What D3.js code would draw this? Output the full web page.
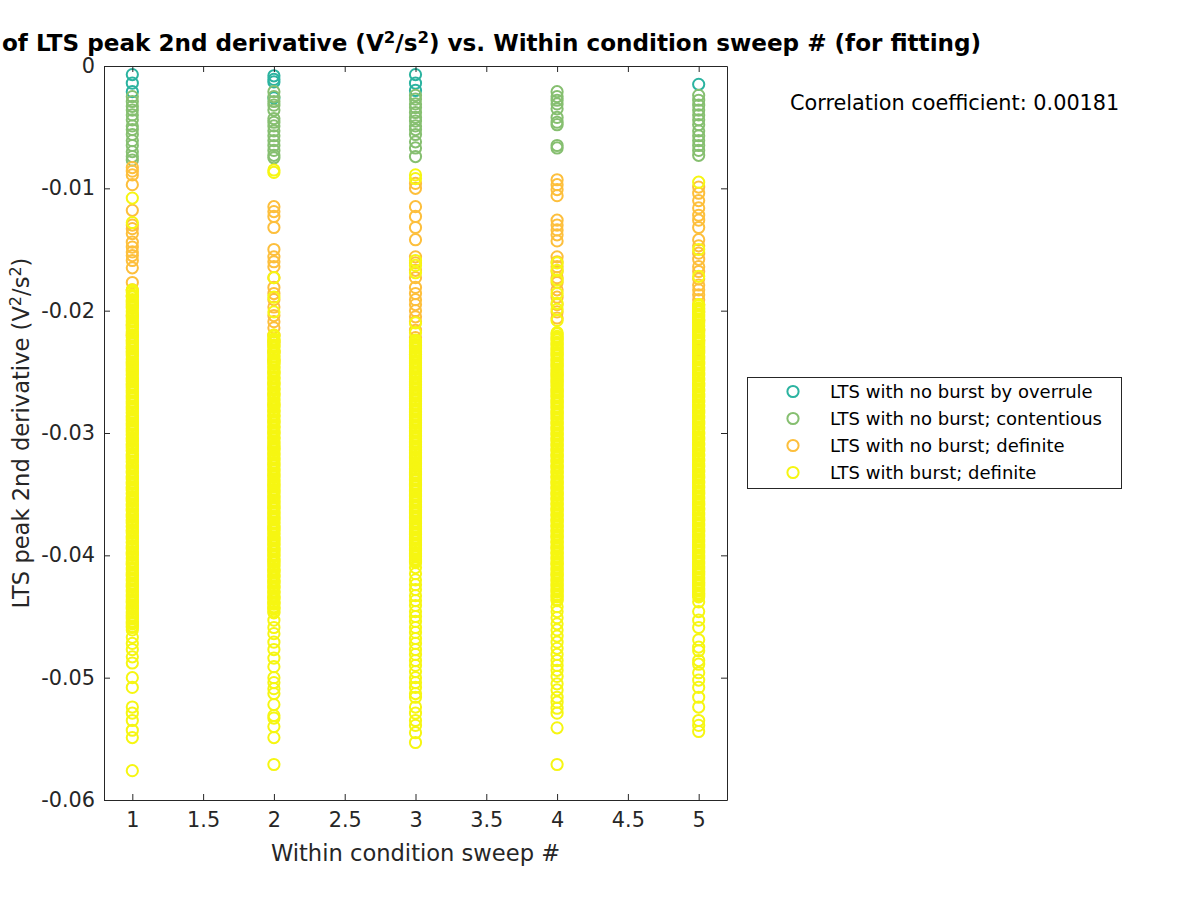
<!DOCTYPE html>
<html><head><meta charset="utf-8">
<script src="https://cdn.jsdelivr.net/npm/d3@7"></script>
<style>
body{margin:0;background:#fff}
svg{display:block}
text{font-family:"DejaVu Sans",sans-serif;fill:#262626}
</style>
</head><body>
<svg id="c" width="1200" height="900"></svg>
<script>
// ---------------- DATA ----------------
const sweeps = [1, 2, 3, 4, 5];
const xTicks = [1, 1.5, 2, 2.5, 3, 3.5, 4, 4.5, 5];
const yTicks = [0, -0.01, -0.02, -0.03, -0.04, -0.05, -0.06];
const groupNames = ["LTS with no burst by overrule", "LTS with no burst; contentious", "LTS with no burst; definite", "LTS with burst; definite"];
const groupColors = ["#2bb3a0", "#86bf70", "#fdbf3c", "#f6f612"];
const corrText = "Correlation coefficient: 0.00181";

// LTS with no burst by overrule (per sweep)
const overruleS1 = [-0.0007, -0.0014, -0.0021];
const overruleS2 = [-0.0008, -0.0011, -0.0013, -0.0026];
const overruleS3 = [-0.0007, -0.0014, -0.0020];
const overruleS4 = [];
const overruleS5 = [-0.0015];

// LTS with no burst; contentious
const contentS1 = [-0.0025, -0.0029, -0.0033, -0.0036, -0.0040, -0.0044, -0.0049, -0.0052, -0.0056, -0.0061, -0.0065, -0.0070, -0.0074, -0.0077];
const contentS2 = [-0.0021, -0.0025, -0.0029, -0.0032, -0.0036, -0.0043, -0.0046, -0.0049, -0.0053, -0.0057, -0.0061, -0.0065, -0.0069, -0.0073, -0.0075];
const contentS3 = [-0.0024, -0.0027, -0.0031, -0.0034, -0.0038, -0.0042, -0.0045, -0.0049, -0.0052, -0.0056, -0.0062, -0.0067, -0.0074];
const contentS4 = [-0.0021, -0.0025, -0.0028, -0.0031, -0.0035, -0.0042, -0.0046, -0.0048, -0.0065, -0.0067];
const contentS5 = [-0.0024, -0.0028, -0.0032, -0.0036, -0.0040, -0.0044, -0.0048, -0.0053, -0.0057, -0.0061, -0.0065, -0.0069, -0.0073];

// LTS with no burst; definite
const noBurstS1 = [-0.0083, -0.0086, -0.0089, -0.0097, -0.0118, -0.0130, -0.0133, -0.0137, -0.0144, -0.0148, -0.0152, -0.0155, -0.0159, -0.0165, -0.0177, -0.0183, -0.0188, -0.0195, -0.0204, -0.0212, -0.0220, -0.0231];
const noBurstS2 = [-0.0115, -0.0119, -0.0123, -0.0132, -0.0150, -0.0156, -0.0160, -0.0164, -0.0173, -0.0181, -0.0186, -0.0191, -0.0197, -0.0204, -0.0209, -0.0214, -0.0220, -0.0226, -0.0234, -0.0240];
const noBurstS3 = [-0.0096, -0.0100, -0.0115, -0.0123, -0.0132, -0.0142, -0.0156, -0.0161, -0.0167, -0.0173, -0.0181, -0.0186, -0.0191, -0.0195, -0.0200, -0.0205, -0.0209, -0.0216, -0.0222, -0.0228, -0.0236];
const noBurstS4 = [-0.0093, -0.0097, -0.0101, -0.0106, -0.0126, -0.0130, -0.0134, -0.0138, -0.0143, -0.0156, -0.0160, -0.0164, -0.0168, -0.0173, -0.0177, -0.0183, -0.0189, -0.0195, -0.0201, -0.0206];
const noBurstS5 = [-0.0099, -0.0104, -0.0110, -0.0116, -0.0122, -0.0126, -0.0132, -0.0142, -0.0147, -0.0153, -0.0158, -0.0164, -0.0168, -0.0174, -0.0179, -0.0183, -0.0187, -0.0191, -0.0195, -0.0201, -0.0208, -0.0216, -0.0224, -0.0232];

// LTS with burst; definite
const burstS1 = [-0.0108, -0.0128,
 -.0183,-.0184,-.0185,-.0187,-.0188,-.0189,-.0191,-.0192,-.0193,-.0194,-.0196,-.0197,-.0198,-.0200,-.0201,-.0203,-.0204,-.0205,-.0206,-.0208,-.0209,-.0211,-.0212,-.0213,-.0214,-.0215,-.0217,-.0218,-.0220,-.0221,-.0222,-.0224,-.0225,-.0226,-.0227,-.0229,-.0230,-.0231,-.0233,-.0234,-.0235,-.0236,-.0237,-.0239,-.0240,-.0242,-.0243,-.0244,-.0245,-.0247,-.0248,-.0249,-.0250,-.0252,-.0253,-.0255,-.0256,-.0257,-.0258,-.0260,-.0261,-.0262,-.0263,-.0265,-.0266,-.0267,-.0269,-.0270,-.0271,-.0272,-.0274,-.0275,-.0276,-.0278,-.0279,-.0280,-.0281,-.0283,-.0284,-.0286,-.0287,-.0288,-.0289,-.0290,-.0292,-.0293,-.0294,-.0296,-.0297,-.0298,-.0299,-.0301,-.0302,-.0304,-.0305,-.0306,-.0307,-.0309,-.0310,-.0311,-.0312,-.0314,-.0315,-.0317,-.0318,-.0319,-.0320,-.0321,-.0323,-.0324,-.0326,-.0327,-.0328,-.0329,-.0331,-.0332,-.0333,-.0335,-.0336,-.0337,-.0338,-.0340,-.0341,-.0342,-.0344,-.0345,-.0346,-.0347,-.0349,-.0350,-.0352,-.0353,-.0354,-.0355,-.0356,-.0358,-.0359,-.0360,-.0362,-.0363,-.0364,-.0366,-.0367,-.0368,-.0369,-.0371,-.0372,-.0373,-.0374,-.0376,-.0377,-.0379,-.0380,-.0381,-.0382,-.0384,-.0385,-.0386,-.0387,-.0389,-.0390,-.0392,-.0393,-.0394,-.0395,-.0397,-.0398,-.0399,-.0400,-.0402,-.0403,-.0405,-.0406,-.0407,-.0408,-.0410,-.0411,-.0412,-.0414,-.0415,-.0416,-.0417,-.0419,-.0420,-.0421,-.0423,-.0424,-.0425,-.0426,-.0428,-.0429,-.0430,-.0432,-.0433,-.0434,-.0436,-.0437,-.0438,-.0439,-.0441,-.0442,-.0443,-.0444,-.0446,-.0447,-.0449,-.0450,-.0451,-.0452,-.0454,-.0455,-.0456,-.0458,-.0459,-.0461,
 -0.0467, -0.0472, -0.0477, -0.0483, -0.0488, -0.0500, -0.0508, -0.0524, -0.0529, -0.0535, -0.0543, -0.0549, -0.0576];
const burstS2 = [-0.0085, -0.0087, -0.0173, -0.0189, -0.0201,
 -.0220,-.0221,-.0223,-.0224,-.0225,-.0226,-.0228,-.0229,-.0230,-.0232,-.0233,-.0234,-.0235,-.0237,-.0238,-.0240,-.0241,-.0242,-.0243,-.0244,-.0246,-.0247,-.0249,-.0250,-.0251,-.0252,-.0254,-.0255,-.0256,-.0258,-.0259,-.0260,-.0261,-.0263,-.0264,-.0265,-.0267,-.0268,-.0269,-.0270,-.0272,-.0273,-.0275,-.0276,-.0277,-.0278,-.0279,-.0281,-.0282,-.0283,-.0285,-.0286,-.0287,-.0289,-.0290,-.0291,-.0292,-.0294,-.0295,-.0296,-.0298,-.0299,-.0300,-.0301,-.0303,-.0304,-.0305,-.0307,-.0308,-.0310,-.0311,-.0312,-.0313,-.0314,-.0316,-.0317,-.0318,-.0320,-.0321,-.0322,-.0324,-.0325,-.0326,-.0327,-.0329,-.0330,-.0331,-.0333,-.0334,-.0335,-.0336,-.0338,-.0339,-.0341,-.0342,-.0343,-.0344,-.0346,-.0347,-.0348,-.0349,-.0351,-.0352,-.0353,-.0355,-.0356,-.0357,-.0359,-.0360,-.0361,-.0362,-.0364,-.0365,-.0366,-.0368,-.0369,-.0370,-.0371,-.0373,-.0374,-.0376,-.0377,-.0378,-.0379,-.0380,-.0382,-.0383,-.0385,-.0386,-.0387,-.0388,-.0390,-.0391,-.0392,-.0394,-.0395,-.0396,-.0397,-.0399,-.0400,-.0401,-.0403,-.0404,-.0405,-.0406,-.0408,-.0409,-.0411,-.0412,-.0413,-.0414,-.0416,-.0417,-.0418,-.0420,-.0421,-.0422,-.0423,-.0425,-.0426,-.0427,-.0429,-.0430,-.0431,-.0433,-.0434,-.0435,-.0436,-.0438,-.0439,-.0440,-.0442,-.0443,-.0444,-.0446,-.0447,
 -0.0453, -0.0459, -0.0464, -0.0471, -0.0477, -0.0484, -0.0491, -0.0500, -0.0504, -0.0509, -0.0513, -0.0522, -0.0531, -0.0533, -0.0540, -0.0549, -0.0571];
const burstS3 = [-0.0089, -0.0092, -0.0159, -0.0163, -0.0169, -0.0210, -0.0218, -0.0224,
 -.0225,-.0226,-.0228,-.0229,-.0230,-.0231,-.0233,-.0234,-.0236,-.0237,-.0238,-.0239,-.0241,-.0242,-.0243,-.0245,-.0246,-.0247,-.0248,-.0250,-.0251,-.0252,-.0254,-.0255,-.0256,-.0258,-.0259,-.0260,-.0261,-.0263,-.0264,-.0265,-.0267,-.0268,-.0269,-.0270,-.0272,-.0273,-.0274,-.0276,-.0277,-.0278,-.0280,-.0281,-.0282,-.0283,-.0285,-.0286,-.0287,-.0289,-.0290,-.0291,-.0292,-.0294,-.0295,-.0296,-.0298,-.0299,-.0300,-.0302,-.0303,-.0304,-.0305,-.0307,-.0308,-.0309,-.0311,-.0312,-.0313,-.0314,-.0316,-.0317,-.0319,-.0320,-.0321,-.0322,-.0324,-.0325,-.0326,-.0327,-.0329,-.0330,-.0332,-.0333,-.0334,-.0335,-.0337,-.0338,-.0339,-.0341,-.0342,-.0343,-.0344,-.0346,-.0347,-.0348,-.0350,-.0351,-.0352,-.0354,-.0355,-.0356,-.0357,-.0359,-.0360,-.0361,-.0363,-.0364,-.0365,-.0366,-.0368,-.0369,-.0370,-.0372,-.0373,-.0374,-.0376,-.0377,-.0378,-.0379,-.0381,-.0382,-.0383,-.0385,-.0386,-.0387,-.0388,-.0390,-.0391,-.0392,-.0394,-.0395,-.0396,-.0398,-.0399,-.0400,-.0401,-.0403,-.0404,-.0405,
 -0.0406, -0.0410, -0.0415, -0.0420, -0.0424, -0.0428, -0.0433, -0.0437, -0.0441, -0.0446, -0.0450, -0.0454, -0.0459, -0.0463, -0.0468, -0.0472, -0.0477, -0.0481, -0.0486, -0.0490, -0.0495, -0.0500, -0.0504, -0.0508, -0.0513, -0.0516, -0.0524, -0.0529, -0.0535, -0.0539, -0.0545, -0.0553];
const burstS4 = [-0.0161, -0.0167, -0.0175, -0.0186, -0.0194, -0.0199, -0.0208,
 -.0218,-.0219,-.0221,-.0222,-.0223,-.0224,-.0226,-.0227,-.0228,-.0230,-.0231,-.0232,-.0234,-.0235,-.0236,-.0237,-.0239,-.0240,-.0241,-.0243,-.0244,-.0245,-.0246,-.0248,-.0249,-.0251,-.0252,-.0253,-.0254,-.0256,-.0257,-.0258,-.0259,-.0261,-.0262,-.0264,-.0265,-.0266,-.0267,-.0269,-.0270,-.0271,-.0273,-.0274,-.0275,-.0276,-.0278,-.0279,-.0280,-.0282,-.0283,-.0284,-.0285,-.0287,-.0288,-.0289,-.0291,-.0292,-.0293,-.0295,-.0296,-.0297,-.0298,-.0300,-.0301,-.0302,-.0304,-.0305,-.0306,-.0307,-.0309,-.0310,-.0311,-.0313,-.0314,-.0315,-.0317,-.0318,-.0319,-.0320,-.0322,-.0323,-.0324,-.0326,-.0327,-.0328,-.0329,-.0331,-.0332,-.0333,-.0335,-.0336,-.0337,-.0339,-.0340,-.0341,-.0342,-.0344,-.0345,-.0346,-.0348,-.0349,-.0350,-.0351,-.0353,-.0354,-.0355,-.0357,-.0358,-.0359,-.0361,-.0362,-.0363,-.0364,-.0366,-.0367,-.0368,-.0370,-.0371,-.0372,-.0373,-.0375,-.0376,-.0377,-.0379,-.0380,-.0381,-.0383,-.0384,-.0385,-.0386,-.0388,-.0389,-.0390,-.0392,-.0393,-.0394,-.0395,-.0397,-.0398,-.0399,-.0401,-.0402,-.0403,-.0405,-.0406,-.0407,-.0408,-.0410,-.0411,-.0412,-.0414,-.0415,-.0416,-.0417,-.0419,-.0420,-.0421,-.0423,-.0424,-.0425,-.0427,-.0428,-.0429,-.0430,-.0432,-.0433,-.0434,-.0436,-.0437,
 -0.0442, -0.0446, -0.0451, -0.0456, -0.0461, -0.0466, -0.0471, -0.0476, -0.0481, -0.0486, -0.0490, -0.0494, -0.0499, -0.0505, -0.0510, -0.0516, -0.0520, -0.0525, -0.0529, -0.0541, -0.0571];
const burstS5 = [-0.0095, -0.0150, -0.0172,
 -.0195,-.0196,-.0198,-.0199,-.0200,-.0201,-.0203,-.0204,-.0205,-.0207,-.0208,-.0209,-.0210,-.0212,-.0213,-.0215,-.0216,-.0217,-.0218,-.0220,-.0221,-.0222,-.0224,-.0225,-.0226,-.0227,-.0229,-.0230,-.0231,-.0233,-.0234,-.0235,-.0237,-.0238,-.0239,-.0240,-.0242,-.0243,-.0244,-.0246,-.0247,-.0248,-.0249,-.0251,-.0252,-.0253,-.0255,-.0256,-.0257,-.0259,-.0260,-.0261,-.0262,-.0264,-.0265,-.0266,-.0268,-.0269,-.0270,-.0271,-.0273,-.0274,-.0275,-.0277,-.0278,-.0279,-.0281,-.0282,-.0283,-.0284,-.0286,-.0287,-.0288,-.0290,-.0291,-.0292,-.0293,-.0295,-.0296,-.0297,-.0299,-.0300,-.0301,-.0303,-.0304,-.0305,-.0306,-.0308,-.0309,-.0310,-.0312,-.0313,-.0314,-.0315,-.0317,-.0318,-.0319,-.0321,-.0322,-.0323,-.0325,-.0326,-.0327,-.0328,-.0330,-.0331,-.0332,-.0334,-.0335,-.0336,-.0337,-.0339,-.0340,-.0341,-.0343,-.0344,-.0345,-.0347,-.0348,-.0349,-.0350,-.0352,-.0353,-.0354,-.0356,-.0357,-.0358,-.0359,-.0361,-.0362,-.0363,-.0365,-.0366,-.0367,-.0369,-.0370,-.0371,-.0372,-.0374,-.0375,-.0376,-.0378,-.0379,-.0380,-.0381,-.0383,-.0384,-.0385,-.0387,-.0388,-.0389,-.0391,-.0392,-.0393,-.0394,-.0396,-.0397,-.0398,-.0400,-.0401,-.0402,-.0403,-.0405,-.0406,-.0407,-.0409,-.0410,-.0411,-.0413,-.0414,-.0415,-.0416,-.0418,-.0419,-.0420,-.0422,-.0423,-.0424,-.0425,-.0427,-.0428,-.0429,-.0431,-.0432,-.0433,-.0434,
 -0.0438, -0.0446, -0.0453, -0.0459, -0.0469, -0.0475, -0.0478, -0.0486, -0.0489, -0.0496, -0.0502, -0.0508, -0.0516, -0.0524, -0.0535, -0.0539, -0.0544];

const overrule = [overruleS1, overruleS2, overruleS3, overruleS4, overruleS5];
const content  = [contentS1, contentS2, contentS3, contentS4, contentS5];
const noBurst  = [noBurstS1, noBurstS2, noBurstS3, noBurstS4, noBurstS5];
const burst    = [burstS1, burstS2, burstS3, burstS4, burstS5];
const groups = [overrule, content, noBurst, burst];

// ---------------- CHART ----------------
const svg = d3.select("#c");
const L = 104, R = 727, T = 66, B = 800;
const x = d3.scaleLinear().domain([0.8, 5.2]).range([L, R]);
const y = d3.scaleLinear().domain([-0.06, 0]).range([B, T]);
const axisColor = "#262626";
const tickFont = 20.8;
const labelFont = 22.6;
const mr = 5.6, msw = 2;

// points
groups.forEach((g, gi) => {
  const pts = [];
  g.forEach((vals, si) => vals.forEach(v => pts.push({s: sweeps[si], v})));
  svg.append("g").selectAll("circle").data(pts).join("circle")
    .attr("cx", d => x(d.s)).attr("cy", d => y(d.v)).attr("r", mr)
    .attr("fill", "none").attr("stroke", groupColors[gi]).attr("stroke-width", msw);
});

const yFmt = d => d === 0 ? "0" : d.toFixed(2);
function styleAxis(g) {
  g.selectAll("path").attr("stroke", axisColor).attr("stroke-width", 1);
  g.selectAll("line").attr("stroke", axisColor).attr("stroke-width", 1);
  g.selectAll("text").attr("fill", axisColor).style("font-size", tickFont + "px").style("font-family", '"DejaVu Sans", sans-serif');
}
svg.append("g").attr("transform", `translate(0,${B})`)
  .call(d3.axisBottom(x).tickValues(xTicks).tickFormat(d3.format("")).tickSizeInner(-6).tickSizeOuter(0).tickPadding(12))
  .call(styleAxis);
svg.append("g").attr("transform", `translate(0,${T})`)
  .call(d3.axisTop(x).tickValues(xTicks).tickFormat("").tickSizeInner(-6).tickSizeOuter(0))
  .call(styleAxis);
svg.append("g").attr("transform", `translate(${L},0)`)
  .call(d3.axisLeft(y).tickValues(yTicks).tickFormat(yFmt).tickSizeInner(-6).tickSizeOuter(0).tickPadding(9))
  .call(styleAxis);
svg.append("g").attr("transform", `translate(${R},0)`)
  .call(d3.axisRight(y).tickValues(yTicks).tickFormat("").tickSizeInner(-6).tickSizeOuter(0))
  .call(styleAxis);

// axis labels
svg.append("text").attr("x", (L + R) / 2).attr("y", 861).attr("text-anchor", "middle")
  .style("font-size", labelFont + "px").text("Within condition sweep #");
const yl = svg.append("text").attr("transform", `translate(29,${(T + B) / 2}) rotate(-90)`)
  .attr("text-anchor", "middle").style("font-size", labelFont + "px");
yl.append("tspan").text("LTS peak 2nd derivative (V");
yl.append("tspan").attr("dy", -8).style("font-size", "16px").text("2");
yl.append("tspan").attr("dy", 8).text("/s");
yl.append("tspan").attr("dy", -8).style("font-size", "16px").text("2");
yl.append("tspan").attr("dy", 8).text(")");

// title (visible part, as in the reference)
const tt = svg.append("text").attr("x", 2).attr("y", 51).attr("text-anchor", "start")
  .style("font-size", "23.1px").style("font-weight", "bold").style("fill", "#000");
tt.append("tspan").text("of LTS peak 2nd derivative (V");
tt.append("tspan").attr("dy", -8).style("font-size", "16.5px").text("2");
tt.append("tspan").attr("dy", 8).text("/s");
tt.append("tspan").attr("dy", -8).style("font-size", "16.5px").text("2");
tt.append("tspan").attr("dy", 8).text(") vs. Within condition sweep # (for fitting)");

// correlation text
svg.append("text").attr("x", 790).attr("y", 110).style("font-size", tickFont + "px").style("fill", "#000").text(corrText);

// legend
const lg = svg.append("g");
lg.append("rect").attr("x", 747.5).attr("y", 377.5).attr("width", 374).attr("height", 111)
  .attr("fill", "#fff").attr("stroke", axisColor).attr("stroke-width", 1);
groupNames.forEach((n, i) => {
  const cy = 391.5 + i * 27;
  lg.append("circle").attr("cx", 793).attr("cy", cy).attr("r", mr).attr("fill", "none")
    .attr("stroke", groupColors[i]).attr("stroke-width", msw);
  lg.append("text").attr("x", 830).attr("y", cy).attr("dy", "0.35em").style("font-size", "18px").style("fill", "#000").text(n);
});
</script>
</body></html>
